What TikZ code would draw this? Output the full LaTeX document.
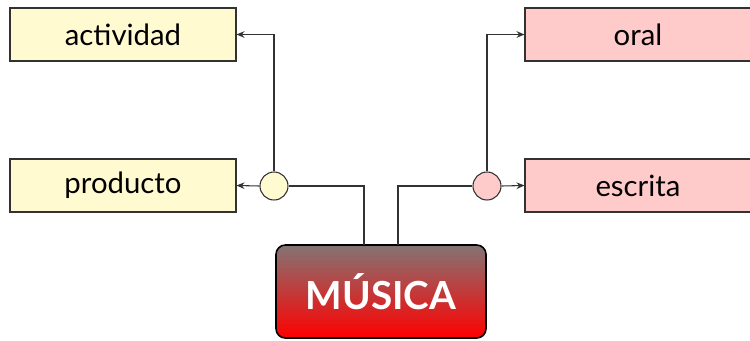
\documentclass[tikz,border=0pt]{standalone}
\usepackage{fontspec}
\setmainfont{Lato}
\usetikzlibrary{arrows.meta}
\definecolor{ybox}{RGB}{255,250,208}
\definecolor{pbox}{RGB}{255,202,202}
\definecolor{lcol}{RGB}{50,50,50}
\definecolor{gtop}{RGB}{132,116,116}
\begin{document}
\begin{tikzpicture}[x=0.75pt,y=-0.75pt,
  leaf/.style={draw=lcol,line width=0.8pt,minimum width=226*0.75pt,minimum height=53*0.75pt,inner sep=0pt,font=\fontsize{22}{26}\selectfont},
  yleaf/.style={leaf,fill=ybox},
  pleaf/.style={leaf,fill=pbox},
  junc/.style={circle,draw=lcol,line width=0.8pt,minimum size=28*0.75pt,inner sep=0pt},
  conn/.style={draw=lcol,line width=0.8pt},
  arr/.style={conn,-{Stealth[length=6pt,width=5pt,inset=2pt]}},
  mainbox/.style={draw=black,line width=1.2pt,rounded corners=7pt,top color=gtop,bottom color=red,minimum width=210*0.75pt,minimum height=93*0.75pt,inner sep=0pt,text=white,font=\fontsize{29}{34}\selectfont\bfseries}
]
\useasboundingbox (0,0) rectangle (750,340);
\node[yleaf] (act) at (123,34.5) {actividad};
\node[yleaf] (prod) at (123,185.5) {producto};
\node[pleaf] (oral) at (638,34.5) {oral};
\node[pleaf] (esc) at (638,185.5) {escrita};
\node[mainbox] (mus) at (381,291.5) {MÚSICA};
\node[junc,fill=ybox] (jl) at (274,186) {};
\node[junc,fill=pbox] (jr) at (487,186) {};
\coordinate (ml) at (364,245);
\coordinate (mr) at (398,245);
\draw[conn] (ml) |- (jl.east);
\draw[conn] (mr) |- (jr.west);
\draw[arr] (jl.north) |- (act.east);
\draw[arr] (jl.west) -- (prod.east);
\draw[arr] (jr.north) |- (oral.west);
\draw[arr] (jr.east) -- (esc.west);
\end{tikzpicture}
\end{document}
